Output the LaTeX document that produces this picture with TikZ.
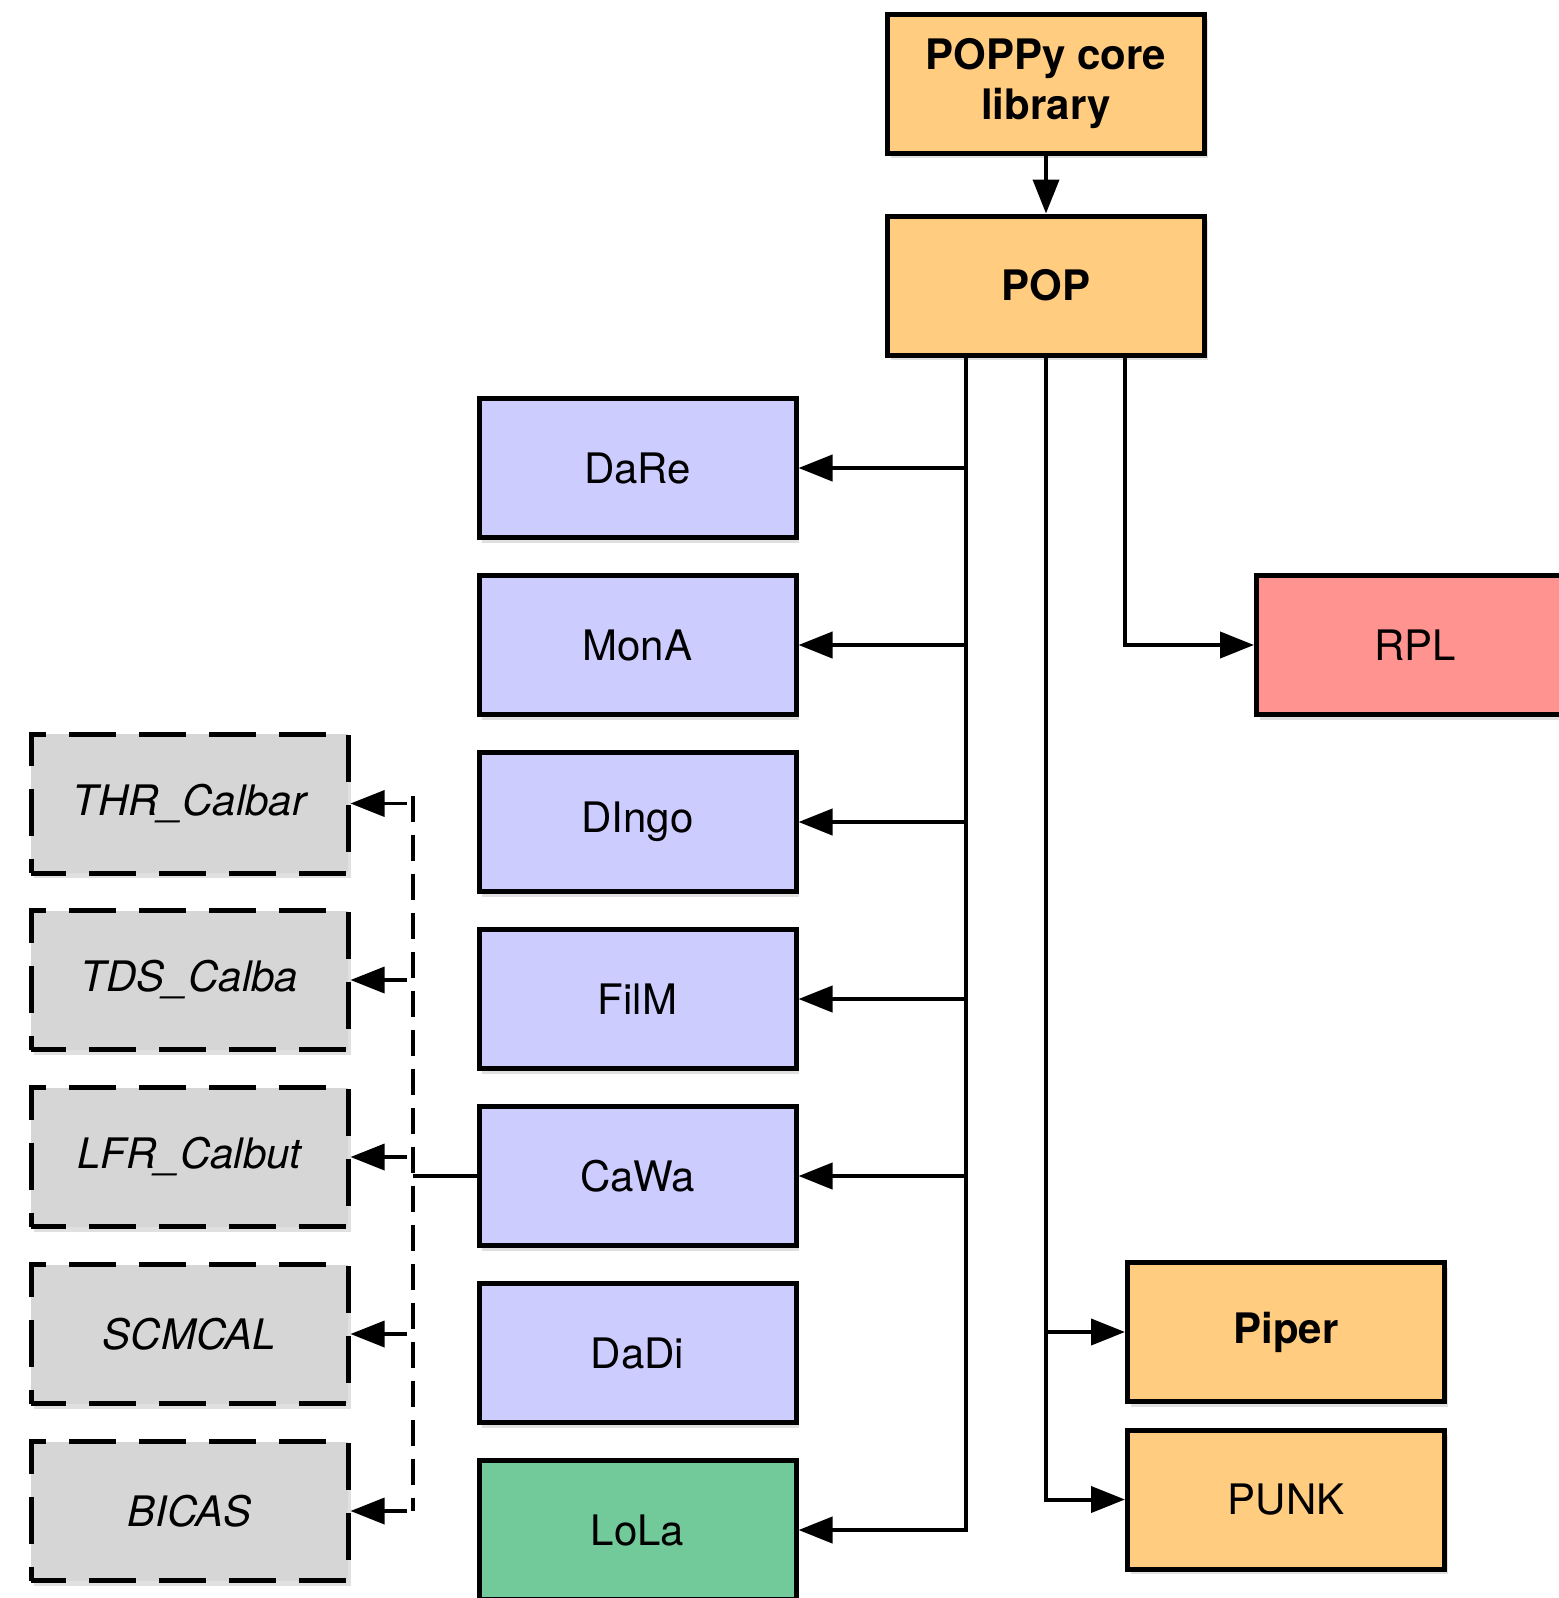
\documentclass[tikz,border=0pt]{standalone}
\usepackage{fontspec}
\setmainfont{TeX Gyre Heros}
\usetikzlibrary{arrows.meta,shadows}
\definecolor{orangeF}{HTML}{FFCC80}
\definecolor{blueF}{HTML}{CCCCFF}
\definecolor{redF}{HTML}{FF938F}
\definecolor{greenF}{HTML}{72CA9B}
\definecolor{grayF}{HTML}{D6D6D6}
\tikzset{
  box/.style={draw=black, line width=5pt, minimum width=317pt, minimum height=139pt,
    inner sep=0pt, align=center, font=\fontsize{42}{50}\selectfont,
    drop shadow={shadow xshift=3pt, shadow yshift=-5pt, opacity=0.12, fill=black}},
  orangebox/.style={box, fill=orangeF},
  bluebox/.style={box, fill=blueF},
  redbox/.style={box, fill=redF},
  greenbox/.style={box, fill=greenF},
  graybox/.style={box, fill=grayF, dash pattern=on 47pt off 23pt, dash phase=12pt, font=\fontsize{42}{50}\selectfont\itshape},
  conn/.style={draw=black, line width=4pt},
  arr/.style={conn, -{Triangle[length=34pt,width=26pt]}},
  dline/.style={draw=black, line width=3.5pt, dash pattern=on 26pt off 13pt},
  darr/.style={dline, -{Triangle[length=34pt,width=26pt]}},
}
\begin{document}
\begin{tikzpicture}[x=1pt,y=-1pt]
\useasboundingbox (0,0) rectangle (1558,1598);
% top
\node[orangebox, font=\fontsize{42}{50}\selectfont\bfseries] (core) at (1046,83.5) {POPPy core\\library};
\node[orangebox, font=\fontsize{42}{50}\selectfont\bfseries] (POP) at (1046,285.5) {POP};
% blue column
\node[bluebox] (DaRe) at (637.5,468) {DaRe};
\node[bluebox] (MonA) at (637.5,645) {MonA};
\node[bluebox] (DIngo) at (637.5,822) {DIngo};
\node[bluebox] (FilM) at (637.5,999) {FilM};
\node[bluebox] (CaWa) at (637.5,1176) {CaWa};
\node[bluebox] (DaDi) at (637.5,1353) {DaDi};
\node[greenbox] (LoLa) at (637.5,1530) {LoLa};
% right
\node[redbox] (RPL) at (1415,645) {RPL};
\node[orangebox, font=\fontsize{42}{50}\selectfont\bfseries] (Piper) at (1286,1332) {Piper};
\node[orangebox] (PUNK) at (1286,1499.5) {PUNK};
% gray column
\node[graybox] (THR) at (189.5,803.5) {THR\_Calbar};
\node[graybox] (TDS) at (189.5,980) {TDS\_Calba};
\node[graybox] (LFR) at (189.5,1157) {LFR\_Calbut};
\node[graybox] (SCM) at (189.5,1334) {SCMCAL};
\node[graybox] (BIC) at (189.5,1511) {BICAS};
% connectors
\draw[arr] (core.south) -- (POP.north);
\coordinate (busL) at (966,358);
\coordinate (busR) at (1125,358);
\draw[arr] (busL) |- (LoLa.east);
\foreach \n in {DaRe,MonA,DIngo,FilM,CaWa}
  \draw[arr] (\n.east -| busL) -- (\n.east);
\draw[arr] (POP.south) |- (PUNK.west);
\draw[arr] (Piper.west -| POP.south) -- (Piper.west);
\draw[arr] (busR) |- (RPL.west);
% dashed group
\coordinate (cw) at (413,1176);
\draw[conn] (CaWa.west) -- (cw);
\draw[dline] ([yshift=8pt]THR.east -| cw) -- (BIC.east -| cw);
\foreach \n in {THR,TDS,LFR,SCM,BIC}
  \draw[darr] ([xshift=-6pt]\n.east -| cw) -- (\n.east);
\end{tikzpicture}
\end{document}
